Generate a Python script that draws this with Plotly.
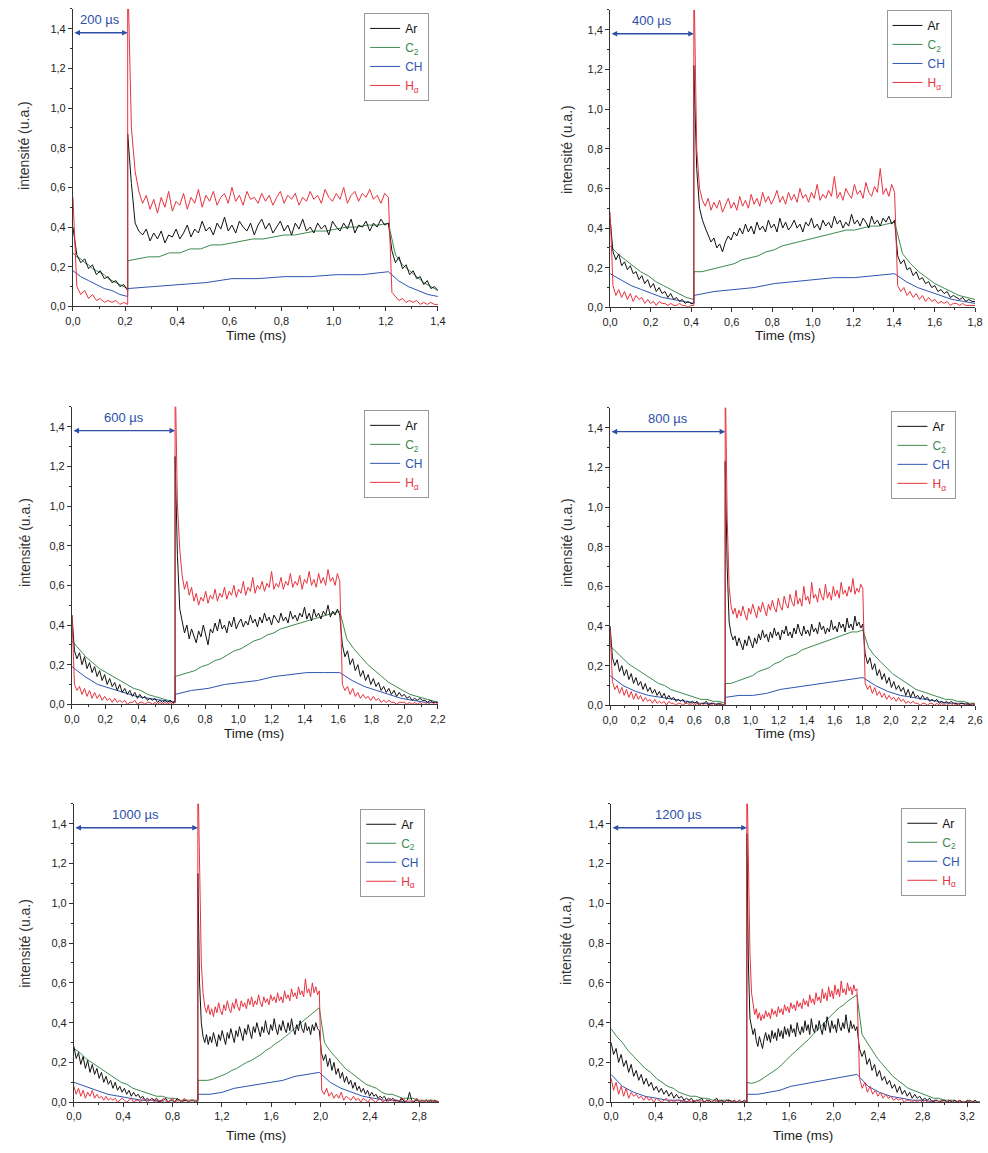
import numpy as np
import plotly.graph_objects as go

# ---------------- panel meta ----------------
gap_labels = ["200 µs", "400 µs", "600 µs", "800 µs", "1000 µs", "1200 µs"]
t_on = [0.21, 0.413, 0.62, 0.82, 1.005, 1.22]      # plasma ignition (spike)
t_off = [1.21, 1.403, 1.61, 1.80, 1.99, 2.21]      # end of pulse
x_max = [1.40, 1.80, 2.20, 2.60, 2.96, 3.316]
x_dtick = [0.2, 0.2, 0.2, 0.2, 0.4, 0.4]

series_names = ["Ar", "C2", "CH", "H"]
series_labels = ["Ar", "C<sub>2</sub>", "CH", "H<sub>α</sub>"]
series_colors = ["#111111", "#3d8a4f", "#2f55b0", "#e8333f"]

# ---------------- panel 1 (200 µs) ----------------
p1_ar_off = [0.40, 0.26, 0.22, 0.24, 0.19, 0.21, 0.16, 0.18, 0.14, 0.15, 0.12, 0.13, 0.10, 0.11, 0.08]
p1_ar_on = [0.87, 0.62, 0.42, 0.38, 0.36, 0.39, 0.33, 0.37, 0.34, 0.38, 0.32, 0.36, 0.35, 0.39, 0.34, 0.37, 0.41, 0.35,
            0.39, 0.37, 0.43, 0.38, 0.40, 0.36, 0.42, 0.39, 0.45, 0.38, 0.41, 0.37, 0.43, 0.40, 0.38, 0.42, 0.36, 0.41,
            0.44, 0.39, 0.42, 0.37, 0.40, 0.43, 0.38, 0.41, 0.36, 0.42, 0.39, 0.44, 0.38, 0.40, 0.37, 0.42, 0.39, 0.41,
            0.36, 0.43, 0.40, 0.38, 0.42, 0.39, 0.44, 0.37, 0.41, 0.40, 0.43, 0.38, 0.42, 0.40, 0.44, 0.41, 0.42]
p1_ar_post = [0.42, 0.28, 0.22, 0.25, 0.19, 0.21, 0.16, 0.18, 0.14, 0.15, 0.11, 0.13, 0.09, 0.10, 0.08]
p1_c2_off = [0.27, 0.25, 0.24, 0.22, 0.21, 0.19, 0.18, 0.17, 0.16, 0.14, 0.13, 0.12, 0.11, 0.10, 0.09]
p1_c2_on = [0.23, 0.24, 0.25, 0.25, 0.27, 0.27, 0.29, 0.29, 0.31, 0.31, 0.32, 0.33, 0.34, 0.34, 0.35, 0.36, 0.36, 0.37,
            0.38, 0.38, 0.39, 0.40, 0.40, 0.41, 0.41, 0.42]
p1_c2_post = [0.42, 0.26, 0.21, 0.18, 0.15, 0.12, 0.10, 0.08]
p1_ch_off = [0.18, 0.15, 0.13, 0.11, 0.09, 0.08, 0.06, 0.05]
p1_ch_on = [0.09, 0.10, 0.11, 0.12, 0.14, 0.14, 0.15, 0.15, 0.16, 0.16, 0.175]
p1_ch_post = [0.175, 0.13, 0.10, 0.08, 0.06, 0.05]
p1_h_off = [0.55, 0.10, 0.06, 0.08, 0.04, 0.06, 0.03, 0.04, 0.02, 0.03, 0.02, 0.03, 0.01, 0.02, 0.01]
p1_h_on = [1.70, 0.90, 0.68, 0.58, 0.52, 0.56, 0.49, 0.54, 0.47, 0.55, 0.50, 0.58, 0.48, 0.53, 0.51, 0.57, 0.49, 0.55,
           0.52, 0.59, 0.50, 0.56, 0.53, 0.58, 0.51, 0.55, 0.57, 0.52, 0.60, 0.53, 0.56, 0.51, 0.58, 0.54, 0.55, 0.52,
           0.57, 0.53, 0.56, 0.51, 0.55, 0.58, 0.52, 0.56, 0.54, 0.57, 0.51, 0.55, 0.53, 0.58, 0.54, 0.56, 0.52, 0.59,
           0.55, 0.53, 0.57, 0.54, 0.60, 0.52, 0.56, 0.58, 0.53, 0.57, 0.55, 0.59, 0.54, 0.56, 0.52, 0.57, 0.55]
p1_h_post = [0.55, 0.07, 0.05, 0.03, 0.04, 0.02, 0.03, 0.02, 0.03, 0.01, 0.02, 0.01, 0.02, 0.01, 0.01]

# ---------------- panel 2 (400 µs) ----------------
p2_ar_off = [0.45, 0.28, 0.24, 0.27, 0.21, 0.23, 0.19, 0.21, 0.17, 0.18, 0.14, 0.16, 0.12, 0.14, 0.10, 0.12, 0.08, 0.10,
             0.07, 0.08, 0.05, 0.07, 0.04, 0.05, 0.03, 0.04, 0.02, 0.03, 0.02, 0.02]
p2_ar_on = [1.22, 0.70, 0.50, 0.44, 0.40, 0.36, 0.33, 0.35, 0.30, 0.32, 0.28, 0.33, 0.36, 0.34, 0.38, 0.36, 0.40, 0.37,
            0.42, 0.38, 0.41, 0.37, 0.43, 0.39, 0.41, 0.38, 0.44, 0.40, 0.42, 0.38, 0.45, 0.40, 0.43, 0.39, 0.41, 0.44,
            0.40, 0.42, 0.38, 0.43, 0.41, 0.45, 0.40, 0.42, 0.39, 0.44, 0.41, 0.43, 0.40, 0.46, 0.42, 0.44, 0.40, 0.43,
            0.41, 0.47, 0.42, 0.44, 0.41, 0.45, 0.43, 0.40, 0.46, 0.42, 0.44, 0.41, 0.45, 0.43, 0.46, 0.42, 0.44]
p2_ar_post = [0.44, 0.26, 0.22, 0.24, 0.19, 0.20, 0.16, 0.18, 0.14, 0.15, 0.12, 0.13, 0.10, 0.11, 0.08, 0.09, 0.07, 0.08,
              0.05, 0.06, 0.05, 0.04, 0.05, 0.03, 0.04, 0.03, 0.03]
p2_c2_off = [0.31, 0.27, 0.24, 0.21, 0.18, 0.16, 0.13, 0.11, 0.09, 0.07, 0.05, 0.04]
p2_c2_on = [0.18, 0.18, 0.19, 0.20, 0.21, 0.22, 0.24, 0.25, 0.26, 0.28, 0.29, 0.31, 0.32, 0.33, 0.34, 0.35, 0.36, 0.37,
            0.38, 0.39, 0.39, 0.40, 0.41, 0.41, 0.42, 0.43]
p2_c2_post = [0.43, 0.27, 0.22, 0.18, 0.15, 0.12, 0.10, 0.08, 0.06, 0.05, 0.04]
p2_ch_off = [0.17, 0.14, 0.11, 0.09, 0.07, 0.05, 0.04, 0.03, 0.02]
p2_ch_on = [0.06, 0.08, 0.09, 0.10, 0.12, 0.13, 0.14, 0.15, 0.15, 0.16, 0.17]
p2_ch_post = [0.17, 0.13, 0.10, 0.08, 0.06, 0.04, 0.03, 0.02]
p2_h_off = [0.48, 0.11, 0.06, 0.09, 0.05, 0.08, 0.04, 0.07, 0.03, 0.06, 0.04, 0.05, 0.02, 0.04, 0.02, 0.03, 0.01, 0.03,
            0.02, 0.02, 0.01, 0.02, 0.01, 0.01, 0.02, 0.01, 0.01, 0.00, 0.01, 0.01]
p2_h_on = [1.70, 0.80, 0.60, 0.54, 0.51, 0.55, 0.49, 0.53, 0.50, 0.54, 0.48, 0.52, 0.55, 0.50, 0.53, 0.49, 0.56, 0.51,
           0.54, 0.50, 0.57, 0.52, 0.55, 0.51, 0.58, 0.53, 0.56, 0.52, 0.55, 0.59, 0.53, 0.56, 0.52, 0.58, 0.54, 0.57,
           0.53, 0.60, 0.55, 0.57, 0.53, 0.58, 0.55, 0.62, 0.54, 0.57, 0.55, 0.59, 0.56, 0.66, 0.55, 0.58, 0.54, 0.60,
           0.57, 0.55, 0.62, 0.57, 0.59, 0.55, 0.63, 0.58, 0.56, 0.61, 0.58, 0.70, 0.57, 0.60, 0.56, 0.62, 0.58]
p2_h_post = [0.58, 0.11, 0.08, 0.10, 0.06, 0.08, 0.05, 0.07, 0.04, 0.06, 0.03, 0.05, 0.03, 0.04, 0.02, 0.03, 0.02, 0.03,
             0.01, 0.02, 0.02, 0.01, 0.02, 0.01, 0.01, 0.01, 0.01]

# ---------------- panel 3 (600 µs) ----------------
p3_ar_off = [0.45, 0.27, 0.23, 0.26, 0.20, 0.24, 0.18, 0.21, 0.16, 0.19, 0.14, 0.17, 0.12, 0.15, 0.10, 0.13, 0.09, 0.11,
             0.07, 0.10, 0.06, 0.08, 0.05, 0.07, 0.04, 0.06, 0.03, 0.05, 0.03, 0.04, 0.02, 0.03, 0.02, 0.03, 0.01, 0.02,
             0.01, 0.02, 0.01, 0.02, 0.01, 0.01]
p3_ar_on = [1.25, 0.75, 0.48, 0.42, 0.36, 0.40, 0.33, 0.38, 0.35, 0.31, 0.37, 0.34, 0.40, 0.35, 0.30, 0.38, 0.36, 0.41,
            0.37, 0.43, 0.38, 0.40, 0.36, 0.42, 0.39, 0.44, 0.38, 0.41, 0.43, 0.39, 0.42, 0.40, 0.45, 0.41, 0.43, 0.39,
            0.44, 0.41, 0.46, 0.42, 0.44, 0.40, 0.45, 0.43, 0.41, 0.46, 0.42, 0.44, 0.41, 0.47, 0.43, 0.45, 0.42, 0.46,
            0.44, 0.49, 0.43, 0.46, 0.42, 0.48, 0.44, 0.46, 0.43, 0.47, 0.45, 0.50, 0.44, 0.47, 0.45, 0.48, 0.45]
p3_ar_post = [0.45, 0.30, 0.24, 0.27, 0.20, 0.23, 0.17, 0.20, 0.14, 0.17, 0.12, 0.15, 0.10, 0.13, 0.09, 0.11, 0.07, 0.09,
              0.06, 0.08, 0.05, 0.07, 0.04, 0.06, 0.04, 0.05, 0.03, 0.04, 0.02, 0.03, 0.02, 0.03, 0.02, 0.02, 0.01, 0.02,
              0.01, 0.01, 0.01]
p3_c2_off = [0.32, 0.28, 0.24, 0.21, 0.18, 0.16, 0.14, 0.12, 0.10, 0.08, 0.07, 0.05, 0.04, 0.03, 0.02, 0.01]
p3_c2_on = [0.14, 0.15, 0.16, 0.17, 0.19, 0.20, 0.22, 0.23, 0.25, 0.27, 0.28, 0.30, 0.32, 0.33, 0.35, 0.36, 0.38, 0.39,
            0.40, 0.41, 0.42, 0.43, 0.44, 0.45, 0.46, 0.47]
p3_c2_post = [0.47, 0.33, 0.28, 0.24, 0.20, 0.17, 0.14, 0.11, 0.09, 0.07, 0.05, 0.04, 0.03, 0.02, 0.01]
p3_ch_off = [0.19, 0.14, 0.10, 0.08, 0.06, 0.04, 0.03, 0.02, 0.01]
p3_ch_on = [0.05, 0.07, 0.08, 0.10, 0.11, 0.12, 0.14, 0.15, 0.16, 0.16, 0.16]
p3_ch_post = [0.16, 0.12, 0.09, 0.07, 0.05, 0.03, 0.02, 0.01, 0.01]
p3_h_off = [0.45, 0.10, 0.07, 0.09, 0.05, 0.08, 0.04, 0.07, 0.03, 0.06, 0.03, 0.05, 0.02, 0.04, 0.02, 0.03, 0.01, 0.03,
            0.01, 0.02, 0.01, 0.02, 0.00, 0.01, 0.01, 0.02, 0.00, 0.01, 0.01, 0.00, 0.01, 0.01, 0.00, 0.01, 0.00, 0.01,
            0.00, 0.01, 0.00, 0.01, 0.00, 0.01]
p3_h_on = [1.70, 1.00, 0.78, 0.65, 0.58, 0.62, 0.55, 0.59, 0.52, 0.56, 0.50, 0.54, 0.52, 0.57, 0.51, 0.55, 0.53, 0.58,
           0.52, 0.56, 0.54, 0.59, 0.53, 0.57, 0.55, 0.60, 0.54, 0.58, 0.56, 0.62, 0.55, 0.59, 0.57, 0.64, 0.56, 0.60,
           0.58, 0.62, 0.57, 0.61, 0.59, 0.67, 0.58, 0.61, 0.59, 0.64, 0.58, 0.62, 0.60, 0.66, 0.59, 0.62, 0.60, 0.65,
           0.58, 0.63, 0.61, 0.67, 0.60, 0.63, 0.59, 0.66, 0.61, 0.64, 0.60, 0.68, 0.62, 0.64, 0.60, 0.66, 0.62]
p3_h_post = [0.62, 0.10, 0.07, 0.09, 0.05, 0.08, 0.04, 0.06, 0.03, 0.05, 0.03, 0.04, 0.02, 0.04, 0.02, 0.03, 0.01, 0.02,
             0.01, 0.02, 0.01, 0.01, 0.00, 0.01, 0.01, 0.01, 0.00, 0.01, 0.00, 0.01, 0.00, 0.01, 0.00, 0.00, 0.01, 0.00,
             0.00, 0.01, 0.00]

# ---------------- panel 4 (800 µs) ----------------
p4_ar_off = [0.40, 0.24, 0.20, 0.23, 0.17, 0.20, 0.15, 0.18, 0.13, 0.16, 0.11, 0.14, 0.10, 0.12, 0.08, 0.11, 0.07, 0.09,
             0.06, 0.08, 0.05, 0.07, 0.04, 0.06, 0.03, 0.05, 0.03, 0.04, 0.02, 0.03, 0.02, 0.03, 0.01, 0.02, 0.01, 0.02,
             0.01, 0.02, 0.00, 0.01, 0.01, 0.02, 0.00, 0.01, 0.01, 0.00, 0.01, 0.01, 0.00, 0.01]
p4_ar_on = [1.23, 0.70, 0.42, 0.36, 0.33, 0.35, 0.30, 0.34, 0.31, 0.28, 0.33, 0.30, 0.35, 0.32, 0.29, 0.34, 0.31, 0.36,
            0.33, 0.38, 0.34, 0.36, 0.32, 0.37, 0.34, 0.39, 0.35, 0.37, 0.33, 0.38, 0.36, 0.40, 0.35, 0.37, 0.34, 0.39,
            0.36, 0.41, 0.37, 0.35, 0.40, 0.36, 0.38, 0.35, 0.41, 0.37, 0.39, 0.36, 0.42, 0.38, 0.40, 0.36, 0.39, 0.37,
            0.43, 0.38, 0.40, 0.37, 0.42, 0.39, 0.41, 0.37, 0.44, 0.39, 0.41, 0.38, 0.45, 0.40, 0.42, 0.39, 0.41]
p4_ar_post = [0.41, 0.26, 0.21, 0.24, 0.18, 0.21, 0.15, 0.18, 0.13, 0.16, 0.11, 0.14, 0.09, 0.12, 0.08, 0.10, 0.07, 0.09,
              0.05, 0.08, 0.04, 0.07, 0.04, 0.05, 0.03, 0.05, 0.03, 0.04, 0.02, 0.03, 0.02, 0.03, 0.01, 0.02, 0.01, 0.02,
              0.01, 0.02, 0.01, 0.01, 0.00, 0.01, 0.01, 0.00, 0.01, 0.00, 0.01, 0.00]
p4_c2_off = [0.30, 0.27, 0.24, 0.21, 0.19, 0.17, 0.15, 0.13, 0.11, 0.10, 0.08, 0.07, 0.06, 0.05, 0.04, 0.03, 0.03, 0.02,
             0.02, 0.01]
p4_c2_on = [0.11, 0.11, 0.12, 0.13, 0.14, 0.15, 0.17, 0.18, 0.19, 0.21, 0.22, 0.24, 0.25, 0.26, 0.28, 0.29, 0.30, 0.31,
            0.32, 0.33, 0.34, 0.35, 0.36, 0.37, 0.37, 0.38]
p4_c2_post = [0.38, 0.29, 0.25, 0.22, 0.19, 0.16, 0.14, 0.12, 0.10, 0.08, 0.07, 0.06, 0.05, 0.04, 0.03, 0.03, 0.02, 0.02,
              0.01, 0.01]
p4_ch_off = [0.15, 0.10, 0.07, 0.05, 0.04, 0.03, 0.02, 0.01, 0.01, 0.00]
p4_ch_on = [0.04, 0.05, 0.05, 0.06, 0.08, 0.09, 0.10, 0.11, 0.12, 0.13, 0.14]
p4_ch_post = [0.14, 0.10, 0.07, 0.05, 0.04, 0.03, 0.02, 0.01, 0.01, 0.00]
p4_h_off = [0.38, 0.12, 0.08, 0.10, 0.06, 0.09, 0.05, 0.08, 0.04, 0.07, 0.03, 0.06, 0.03, 0.05, 0.02, 0.04, 0.02, 0.03,
            0.01, 0.03, 0.01, 0.02, 0.01, 0.02, 0.00, 0.02, 0.01, 0.01, 0.00, 0.01, 0.01, 0.00, 0.01, 0.01, 0.00, 0.01,
            0.00, 0.01, 0.00, 0.01, 0.00, 0.00, 0.01, 0.00, 0.01, 0.00, 0.00, 0.01, 0.00, 0.01]
p4_h_on = [1.70, 0.95, 0.60, 0.50, 0.46, 0.49, 0.44, 0.48, 0.45, 0.50, 0.46, 0.43, 0.49, 0.46, 0.51, 0.47, 0.44, 0.50,
           0.47, 0.52, 0.48, 0.45, 0.51, 0.48, 0.53, 0.49, 0.47, 0.54, 0.50, 0.48, 0.55, 0.51, 0.49, 0.56, 0.52, 0.50,
           0.58, 0.51, 0.54, 0.50, 0.60, 0.53, 0.55, 0.51, 0.62, 0.54, 0.56, 0.52, 0.59, 0.55, 0.53, 0.61, 0.54, 0.57,
           0.53, 0.60, 0.55, 0.58, 0.54, 0.62, 0.56, 0.58, 0.55, 0.60, 0.57, 0.64, 0.56, 0.59, 0.57, 0.61, 0.59]
p4_h_post = [0.59, 0.11, 0.08, 0.10, 0.06, 0.09, 0.05, 0.07, 0.04, 0.06, 0.03, 0.05, 0.03, 0.04, 0.02, 0.04, 0.02, 0.03,
             0.01, 0.02, 0.01, 0.02, 0.01, 0.01, 0.00, 0.01, 0.01, 0.00, 0.01, 0.01, 0.00, 0.01, 0.00, 0.01, 0.00, 0.01,
             0.00, 0.00, 0.01, 0.00, 0.01, 0.00, 0.00, 0.01, 0.00, 0.00, 0.01, 0.00]

# ---------------- panel 5 (1000 µs) ----------------
p5_ar_off = [0.28, 0.22, 0.25, 0.19, 0.23, 0.17, 0.21, 0.15, 0.19, 0.14, 0.17, 0.12, 0.15, 0.10, 0.13, 0.09, 0.11, 0.07,
             0.10, 0.06, 0.08, 0.05, 0.07, 0.04, 0.06, 0.03, 0.05, 0.03, 0.04, 0.02, 0.03, 0.01, 0.02, 0.01, 0.02, 0.01,
             0.02, 0.00, 0.01, 0.01, 0.02, 0.00, 0.01, 0.01, 0.00, 0.02, 0.01, 0.00, 0.01, 0.01, 0.00, 0.01, 0.01, 0.00,
             0.01]
p5_ar_on = [1.15, 0.60, 0.40, 0.33, 0.30, 0.34, 0.29, 0.33, 0.30, 0.35, 0.31, 0.28, 0.34, 0.31, 0.36, 0.32, 0.29, 0.35,
            0.32, 0.37, 0.33, 0.30, 0.36, 0.33, 0.38, 0.34, 0.31, 0.37, 0.34, 0.39, 0.35, 0.32, 0.38, 0.35, 0.40, 0.36,
            0.33, 0.38, 0.35, 0.41, 0.36, 0.34, 0.39, 0.36, 0.42, 0.37, 0.34, 0.39, 0.36, 0.41, 0.37, 0.35, 0.40, 0.36,
            0.42, 0.37, 0.34, 0.39, 0.36, 0.41, 0.37, 0.35, 0.40, 0.36, 0.38, 0.34, 0.39, 0.36, 0.40, 0.37, 0.36]
p5_ar_post = [0.36, 0.25, 0.21, 0.24, 0.18, 0.22, 0.16, 0.20, 0.14, 0.17, 0.12, 0.15, 0.10, 0.13, 0.09, 0.11, 0.07, 0.10,
              0.06, 0.08, 0.05, 0.07, 0.04, 0.06, 0.03, 0.05, 0.03, 0.04, 0.02, 0.03, 0.02, 0.03, 0.01, 0.02, 0.01, 0.02,
              0.01, 0.01, 0.00, 0.02, 0.01, 0.00, 0.01, 0.05, 0.01, 0.00, 0.01, 0.01, 0.00, 0.01, 0.00, 0.01, 0.00, 0.01,
              0.00, 0.01, 0.00, 0.00]
p5_c2_off = [0.27, 0.25, 0.22, 0.20, 0.18, 0.16, 0.14, 0.12, 0.10, 0.09, 0.07, 0.06, 0.05, 0.04, 0.03, 0.03, 0.02, 0.02,
             0.01, 0.01, 0.01, 0.01]
p5_c2_on = [0.11, 0.11, 0.11, 0.115, 0.125, 0.135, 0.145, 0.16, 0.17, 0.185, 0.20, 0.21, 0.225, 0.24, 0.26, 0.275,
            0.295, 0.31, 0.33, 0.35, 0.375, 0.395, 0.415, 0.435, 0.455, 0.475]
p5_c2_post = [0.475, 0.30, 0.26, 0.23, 0.20, 0.17, 0.15, 0.13, 0.11, 0.09, 0.08, 0.07, 0.05, 0.04, 0.04, 0.03, 0.02,
              0.02, 0.02, 0.01, 0.01, 0.01, 0.01, 0.00]
p5_ch_off = [0.10, 0.08, 0.06, 0.04, 0.03, 0.02, 0.01, 0.01, 0.00, 0.00, 0.00, 0.00]
p5_ch_on = [0.04, 0.04, 0.05, 0.07, 0.08, 0.09, 0.10, 0.11, 0.13, 0.14, 0.15]
p5_ch_post = [0.15, 0.10, 0.07, 0.05, 0.03, 0.02, 0.01, 0.01, 0.00, 0.00, 0.00, 0.00]
p5_h_off = [0.08, 0.04, 0.07, 0.03, 0.06, 0.02, 0.05, 0.03, 0.06, 0.02, 0.04, 0.02, 0.03, 0.01, 0.03, 0.01, 0.02, 0.01,
            0.02, 0.00, 0.01, 0.02, 0.01, 0.00, 0.01, 0.02, 0.00, 0.01, 0.01, 0.00, 0.02, 0.01, 0.00, 0.01, 0.02, 0.00,
            0.01, 0.01, 0.00, 0.02, 0.01, 0.00, 0.01, 0.02, 0.00, 0.01, 0.01, 0.00, 0.02, 0.01, 0.00, 0.01, 0.01, 0.00,
            0.01]
p5_h_on = [1.70, 1.20, 0.70, 0.55, 0.48, 0.45, 0.49, 0.44, 0.47, 0.43, 0.48, 0.45, 0.50, 0.46, 0.44, 0.49, 0.46, 0.51,
           0.47, 0.45, 0.50, 0.47, 0.52, 0.48, 0.46, 0.51, 0.48, 0.50, 0.47, 0.52, 0.49, 0.53, 0.48, 0.51, 0.49, 0.54,
           0.50, 0.48, 0.53, 0.50, 0.52, 0.49, 0.54, 0.51, 0.53, 0.50, 0.55, 0.51, 0.53, 0.50, 0.56, 0.52, 0.54, 0.51,
           0.57, 0.53, 0.55, 0.52, 0.58, 0.54, 0.56, 0.53, 0.62, 0.55, 0.57, 0.53, 0.60, 0.55, 0.58, 0.54, 0.56]
p5_h_post = [0.56, 0.06, 0.04, 0.07, 0.03, 0.05, 0.02, 0.04, 0.02, 0.05, 0.01, 0.03, 0.02, 0.01, 0.03, 0.01, 0.02, 0.00,
             0.02, 0.01, 0.00, 0.02, 0.01, 0.00, 0.01, 0.02, 0.00, 0.01, 0.00, 0.02, 0.01, 0.00, 0.01, 0.00, 0.02, 0.01,
             0.00, 0.01, 0.00, 0.01, 0.02, 0.00, 0.01, 0.00, 0.01, 0.00, 0.01, 0.00, 0.01, 0.00]

# ---------------- panel 6 (1200 µs) ----------------
p6_ar_off = [0.30, 0.24, 0.27, 0.20, 0.24, 0.18, 0.21, 0.15, 0.19, 0.13, 0.16, 0.11, 0.14, 0.09, 0.12, 0.08, 0.10, 0.06,
             0.08, 0.05, 0.07, 0.04, 0.06, 0.03, 0.05, 0.02, 0.04, 0.02, 0.03, 0.01, 0.02, 0.01, 0.02, 0.00, 0.01, 0.01,
             0.02, 0.00, 0.01, 0.01, 0.00, 0.01, 0.02, 0.00, 0.01, 0.00, 0.01, 0.01, 0.00, 0.01, 0.00, 0.01, 0.00, 0.01,
             0.00]
p6_ar_on = [1.35, 0.70, 0.42, 0.38, 0.34, 0.37, 0.31, 0.28, 0.33, 0.30, 0.27, 0.32, 0.35, 0.31, 0.34, 0.30, 0.36, 0.32,
            0.35, 0.31, 0.37, 0.33, 0.36, 0.32, 0.38, 0.34, 0.37, 0.33, 0.39, 0.35, 0.37, 0.33, 0.40, 0.36, 0.34, 0.38,
            0.35, 0.41, 0.36, 0.39, 0.34, 0.42, 0.37, 0.35, 0.39, 0.36, 0.41, 0.37, 0.34, 0.40, 0.36, 0.43, 0.38, 0.35,
            0.41, 0.37, 0.39, 0.35, 0.42, 0.38, 0.36, 0.40, 0.37, 0.44, 0.38, 0.35, 0.41, 0.37, 0.39, 0.36, 0.38]
p6_ar_post = [0.38, 0.27, 0.23, 0.26, 0.19, 0.22, 0.16, 0.19, 0.13, 0.16, 0.11, 0.13, 0.09, 0.11, 0.07, 0.09, 0.05, 0.08,
              0.04, 0.06, 0.03, 0.05, 0.02, 0.04, 0.02, 0.03, 0.01, 0.02, 0.01, 0.02, 0.00, 0.01, 0.01, 0.00, 0.01, 0.01,
              0.00, 0.01, 0.00, 0.01, 0.00, 0.01, 0.00, 0.00, 0.01, 0.00, 0.00, 0.01, 0.00, 0.00]
p6_c2_off = [0.37, 0.33, 0.30, 0.26, 0.23, 0.20, 0.17, 0.15, 0.12, 0.10, 0.08, 0.07, 0.05, 0.04, 0.03, 0.03, 0.02, 0.02,
             0.01, 0.01, 0.01, 0.01, 0.00, 0.00, 0.00]
p6_c2_on = [0.10, 0.095, 0.10, 0.11, 0.125, 0.14, 0.155, 0.17, 0.19, 0.215, 0.235, 0.255, 0.275, 0.295, 0.315, 0.34,
            0.36, 0.385, 0.41, 0.435, 0.455, 0.475, 0.49, 0.51, 0.525, 0.54]
p6_c2_post = [0.54, 0.34, 0.30, 0.26, 0.22, 0.19, 0.16, 0.13, 0.11, 0.09, 0.07, 0.06, 0.05, 0.04, 0.03, 0.02, 0.02,
              0.01, 0.01, 0.01, 0.00, 0.00, 0.01, 0.00, 0.00]
p6_ch_off = [0.14, 0.08, 0.05, 0.03, 0.02, 0.01, 0.01, 0.00, 0.00, 0.00, 0.00, 0.00, 0.00]
p6_ch_on = [0.04, 0.04, 0.05, 0.06, 0.08, 0.09, 0.10, 0.11, 0.12, 0.13, 0.14]
p6_ch_post = [0.14, 0.08, 0.05, 0.03, 0.02, 0.01, 0.01, 0.00, 0.00, 0.00, 0.00, 0.00]
p6_h_off = [0.12, 0.06, 0.10, 0.04, 0.08, 0.03, 0.07, 0.02, 0.05, 0.03, 0.04, 0.02, 0.03, 0.01, 0.03, 0.01, 0.02, 0.00,
            0.02, 0.01, 0.00, 0.01, 0.02, 0.00, 0.01, 0.00, 0.01, 0.01, 0.00, 0.01, 0.00, 0.01, 0.00, 0.01, 0.00, 0.00,
            0.01, 0.00, 0.01, 0.00, 0.00, 0.01, 0.00, 0.01, 0.00, 0.00, 0.01, 0.00, 0.00, 0.01, 0.00, 0.01, 0.00, 0.00,
            0.00]
p6_h_on = [1.70, 1.30, 0.75, 0.55, 0.48, 0.44, 0.47, 0.42, 0.45, 0.41, 0.44, 0.42, 0.46, 0.43, 0.45, 0.42, 0.47, 0.44,
           0.46, 0.43, 0.48, 0.45, 0.47, 0.44, 0.49, 0.46, 0.48, 0.45, 0.50, 0.47, 0.49, 0.46, 0.51, 0.48, 0.50, 0.47,
           0.52, 0.49, 0.51, 0.48, 0.54, 0.50, 0.52, 0.49, 0.55, 0.51, 0.53, 0.50, 0.57, 0.52, 0.55, 0.51, 0.58, 0.53,
           0.56, 0.52, 0.59, 0.54, 0.57, 0.53, 0.61, 0.55, 0.57, 0.54, 0.60, 0.56, 0.58, 0.54, 0.59, 0.56, 0.57]
p6_h_post = [0.57, 0.12, 0.07, 0.10, 0.05, 0.08, 0.04, 0.06, 0.03, 0.05, 0.02, 0.04, 0.02, 0.03, 0.01, 0.02, 0.01, 0.02,
             0.00, 0.01, 0.01, 0.00, 0.01, 0.00, 0.01, 0.00, 0.01, 0.00, 0.00, 0.01, 0.00, 0.00, 0.01, 0.00, 0.00, 0.01,
             0.00, 0.00, 0.00, 0.01, 0.00, 0.00, 0.00, 0.01, 0.00, 0.00, 0.00, 0.00]

# table built from the named lists above
data = {}
for _p in range(1, 7):
    for _s in ["ar", "c2", "ch", "h"]:
        data[(_p, _s)] = [globals()[f"p{_p}_{_s}_off"], globals()[f"p{_p}_{_s}_on"], globals()[f"p{_p}_{_s}_post"]]

# ---------------- layout geometry (target-picture pixels) ----------------
W, H = 988, 1153
# x_left, x_right, y_zero (value 0), y_top (value 1.5)
boxes = [
    (66, 437, 308, 9),
    (612, 983, 309, 10),
    (65, 437, 708, 409),
    (612, 983, 709, 410),
    (67, 438, 1108, 808),
    (613, 988, 1108, 808),
]
legend_pos = [(362, 13), (893, 10), (362, 412), (898, 413), (358, 813), (908, 812)]
ytitle_pos = [(17, 146), (568, 150), (17, 545), (568, 545), (17, 948), (567, 945)]
xtitle_pos = [(252, 337), (790, 337), (250, 737), (790, 737), (252, 1141), (808, 1141)]


def px(x):
    return x / W


def py(y):
    return 1 - y / H


fig = go.Figure()
FONT = "Liberation Sans, Arial, sans-serif"
draw_order = [1, 2, 0, 3]  # C2, CH, Ar, H
keys = ["ar", "c2", "ch", "h"]

for i in range(6):
    p = i + 1
    xa = "x" if p == 1 else f"x{p}"
    ya = "y" if p == 1 else f"y{p}"
    lg = "legend" if p == 1 else f"legend{p}"
    for k in draw_order:
        off, on, post = data[(p, keys[k])]
        t = list(np.linspace(0.0, t_on[i], len(off))) + list(np.linspace(t_on[i], t_off[i], len(on))) + \
            list(np.linspace(t_off[i], x_max[i], len(post)))
        y = list(off) + list(on) + list(post)
        fig.add_trace(go.Scatter(
            x=t, y=y, mode="lines",
            line=dict(color=series_colors[k], width=1),
            name=f"<span style='color:{series_colors[k]}'>{series_labels[k]}</span>",
            legend=lg, legendrank=k + 1,
            xaxis=xa, yaxis=ya, hoverinfo="skip",
        ))

    x0, x1, y0, y1 = boxes[i]
    axis_common = dict(showline=True, linecolor="#333", linewidth=1, ticks="outside", ticklen=4,
                       tickcolor="#333", showgrid=False, zeroline=False,
                       tickfont=dict(family=FONT, size=11, color="#222"), tickformat=".1f")
    fig.layout[f"xaxis{'' if p == 1 else p}"] = dict(
        domain=[px(x0), px(x1)], anchor=ya, range=[0, x_max[i]], dtick=x_dtick[i], tick0=0,
        minor=dict(ticks="outside", ticklen=2, tickcolor="#333", dtick=x_dtick[i] / 2, showgrid=False),
        **axis_common)
    fig.layout[f"yaxis{'' if p == 1 else p}"] = dict(
        domain=[py(y0), py(y1)], anchor=xa, range=[0, 1.5], dtick=0.2, tick0=0,
        minor=dict(ticks="outside", ticklen=2, tickcolor="#333", dtick=0.1, showgrid=False),
        **axis_common)

    lx, ly = legend_pos[i]
    fig.layout[lg] = dict(x=px(lx), y=py(ly), xanchor="left", yanchor="top", bgcolor="rgba(255,255,255,0.9)",
                          bordercolor="#999", borderwidth=1, font=dict(family=FONT, size=12),
                          itemwidth=30, tracegroupgap=0)

    # double arrow marking the afterglow duration
    fig.add_annotation(x=t_on[i], y=1.38, ax=0, ay=1.38, xref=xa, yref=ya, axref=xa, ayref=ya,
                       text="", showarrow=True, arrowhead=2, startarrowhead=2, arrowside="end+start",
                       arrowsize=0.8, startarrowsize=0.8, arrowwidth=1.4, arrowcolor="#2d4fa8")
    fig.add_annotation(x=t_on[i] / 2, y=1.448, xref=xa, yref=ya, text=gap_labels[i], showarrow=False,
                       xanchor="center", yanchor="middle",
                       font=dict(family=FONT, size=13, color="#2d4fa8"))
    tx, ty = ytitle_pos[i]
    fig.add_annotation(x=px(tx), y=py(ty), xref="paper", yref="paper", text="intensité (u.a.)", textangle=-90,
                       xanchor="center", yanchor="middle",
                       showarrow=False, font=dict(family=FONT, size=14, color="#333"))
    tx, ty = xtitle_pos[i]
    fig.add_annotation(x=px(tx), y=py(ty), xref="paper", yref="paper", text="Time (ms)",
                       xanchor="center", yanchor="middle",
                       showarrow=False, font=dict(family=FONT, size=13.5, color="#222"))

fig.update_layout(width=W, height=H, margin=dict(l=0, r=0, t=0, b=0), paper_bgcolor="white",
                  plot_bgcolor="white", separators=", ", showlegend=True)
fig.write_html("out.html", config={"displayModeBar": False},
               post_script="document.body.style.margin='0';document.body.style.overflow='hidden';")
